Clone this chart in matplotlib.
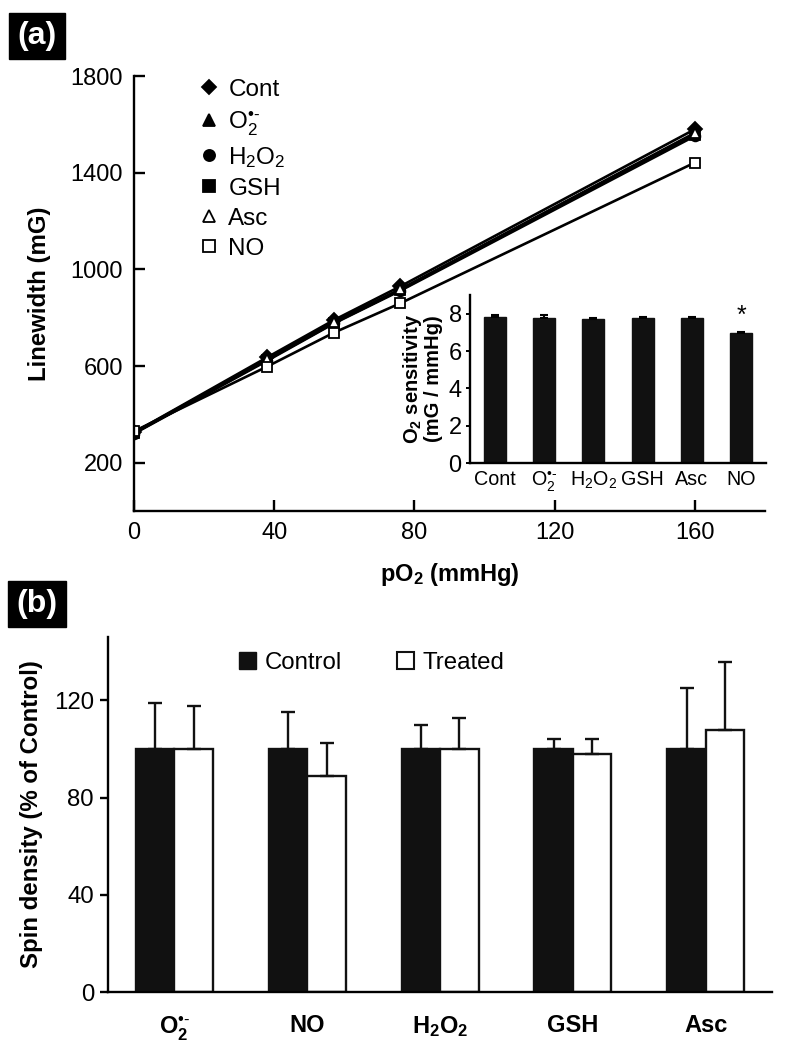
import matplotlib.pyplot as plt
from matplotlib.lines import Line2D
from matplotlib.patches import Patch
import numpy as np

plt.rcParams['font.family'] = ['Liberation Sans', 'DejaVu Sans']
plt.rcParams['mathtext.fontset'] = 'custom'
plt.rcParams['mathtext.rm'] = 'Liberation Sans'
plt.rcParams['mathtext.it'] = 'Liberation Sans:italic'
plt.rcParams['mathtext.bf'] = 'Liberation Sans:bold'

# (a) linewidth vs pO2
po2 = [0, 38, 57, 76, 160]
series_names = ['Cont', 'O$_2^{•\u2010}$', 'H$_2$O$_2$', 'GSH', 'Asc', 'NO']
lw_cont = [325, 636, 790, 930, 1580]
lw_o2 = [322, 626, 780, 917, 1562]
lw_h2o2 = [320, 622, 776, 912, 1552]
lw_gsh = [322, 625, 778, 915, 1558]
lw_asc = [325, 628, 782, 918, 1565]
lw_no = [330, 598, 738, 860, 1442]

# inset: O2 sensitivity
inset_labels = ['Cont', 'O$_2^{•\u2010}$', 'H$_2$O$_2$', 'GSH', 'Asc', 'NO']
sens = [7.85, 7.75, 7.72, 7.75, 7.75, 6.95]
sens_err = [0.1, 0.18, 0.05, 0.05, 0.05, 0.05]

# (b) spin density
groups = ['O$_\\mathbf{2}^{•\u2010}$', 'NO', 'H$_\\mathbf{2}$O$_\\mathbf{2}$', 'GSH', 'Asc']
control = [100, 100, 100, 100, 100]
control_err = [19, 15, 10, 4, 25]
treated = [100, 89, 100, 98, 107.6]
treated_err = [17.5, 13.5, 12.5, 6, 28]

fig = plt.figure(figsize=(7.88, 10.5), dpi=100)

# ---- panel (a)
ax = fig.add_axes([0.170, 0.5133, 0.801, 0.4143])
all_lw = [lw_cont, lw_o2, lw_h2o2, lw_gsh, lw_asc, lw_no]
markers = ['D', '^', 'o', 's', '^', 's']
faces = ['black', 'black', 'black', 'black', 'white', 'white']
handles = []
for vals, m, fc, name in zip(all_lw, markers, faces, series_names):
    ax.plot(po2, vals, color='black', lw=1.9, marker=m, ms=7,
            markerfacecolor=fc, markeredgecolor='black', mew=1.3)
    handles.append(Line2D([], [], ls='none', marker=m, ms=8 if m != 'D' else 7,
                          markerfacecolor=fc, markeredgecolor='black', mew=1.3,
                          label=name))
ax.set_xlim(0, 180)
ax.set_ylim(0, 1800)
ax.set_xticks([0, 40, 80, 120, 160])
ax.set_yticks([200, 600, 1000, 1400, 1800])
ax.spines['top'].set_visible(False)
ax.spines['right'].set_visible(False)
for s in ['left', 'bottom']:
    ax.spines[s].set_linewidth(1.7)
ax.tick_params(direction='in', length=8, width=1.7, labelsize=17, pad=8)
ax.set_xlabel('pO$_\\mathbf{2}$ (mmHg)', fontsize=17, fontweight='bold', labelpad=12)
ax.set_ylabel('Linewidth (mG)', fontsize=17.3, fontweight='bold', labelpad=14)
ax.legend(handles=handles, loc='upper left', bbox_to_anchor=(0.088, 1.016),
          frameon=False, fontsize=17.5, handlelength=0.8, handletextpad=0.4,
          labelspacing=0.33, borderaxespad=0)

# inset
axi = fig.add_axes([0.5964, 0.559, 0.3756, 0.160])
xi = np.arange(len(sens))
axi.bar(xi, sens, width=0.45, color='#111111', edgecolor='#111111')
axi.errorbar(xi, sens, yerr=[np.zeros(len(sens)), sens_err], fmt='none',
             ecolor='black', elinewidth=1.5, capsize=3, capthick=1.5)
axi.text(xi[-1], sens[-1] + sens_err[-1] + 0.25, '*', ha='center', va='bottom',
         fontsize=18)
axi.set_xlim(-0.5, 5.5)
axi.set_ylim(0, 9)
axi.set_yticks([0, 2, 4, 6, 8])
axi.set_xticks(xi)
axi.set_xticklabels(inset_labels, fontsize=14.2)
axi.spines['top'].set_visible(False)
axi.spines['right'].set_visible(False)
for s in ['left', 'bottom']:
    axi.spines[s].set_linewidth(1.7)
axi.tick_params(axis='y', direction='out', length=3, width=1.4, labelsize=17, pad=3)
axi.tick_params(axis='x', length=0, pad=5)
axi.set_ylabel('O$_\\mathbf{2}$ sensitivity\n(mG / mmHg)', fontsize=14.5,
               fontweight='bold', labelpad=4, linespacing=1.0)

# ---- panel (b)
axb = fig.add_axes([0.137, 0.0552, 0.843, 0.3381])
xb = np.arange(len(groups))
w = 0.29
axb.bar(xb - w / 2, control, width=w, color='#111111', edgecolor='#111111', lw=1.7,
        label='Control')
axb.bar(xb + w / 2, treated, width=w, color='white', edgecolor='#111111', lw=1.7,
        label='Treated')
axb.errorbar(xb - w / 2, control, yerr=[np.zeros(len(control)), control_err],
             fmt='none', ecolor='#111111', elinewidth=1.7, capsize=5, capthick=1.7)
axb.errorbar(xb + w / 2, treated, yerr=[np.zeros(len(treated)), treated_err],
             fmt='none', ecolor='#111111', elinewidth=1.7, capsize=5, capthick=1.7)
axb.set_xlim(-0.5, 4.5)
axb.set_ylim(0, 146)
axb.set_yticks([0, 40, 80, 120])
axb.set_xticks(xb)
axb.set_xticklabels(groups, fontsize=17, fontweight='bold')
axb.spines['top'].set_visible(False)
axb.spines['right'].set_visible(False)
for s in ['left', 'bottom']:
    axb.spines[s].set_linewidth(1.7)
axb.tick_params(axis='y', direction='out', length=6, width=1.7, labelsize=17.3, pad=4)
axb.tick_params(axis='x', length=0, pad=16)
axb.set_ylabel('Spin density (% of Control)', fontsize=17.3, fontweight='bold',
               labelpad=8)
leg_handles = [Patch(facecolor='#111111', edgecolor='#111111', label='Control'),
               Patch(facecolor='white', edgecolor='#111111', lw=1.5, label='Treated')]
axb.legend(handles=leg_handles, loc='upper left', bbox_to_anchor=(0.183, 0.985),
           ncol=2, frameon=False, fontsize=17.3, handlelength=0.7,
           handleheight=0.7, handletextpad=0.35, columnspacing=2.3, borderaxespad=0)

# panel labels
for label, yy in [('(a)', 0.966), ('(b)', 0.425)]:
    fig.text(0.047, yy, label, fontsize=23, fontweight='bold', color='white',
             ha='center', va='center',
             bbox=dict(boxstyle='square,pad=0.25', facecolor='black', edgecolor='black'))

fig.savefig('out.png', dpi=100)
